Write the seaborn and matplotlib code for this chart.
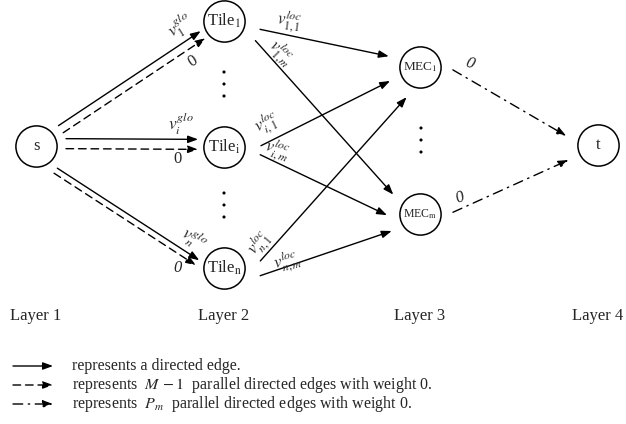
import numpy as np
import pandas as pd
import seaborn as sns
import matplotlib.pyplot as plt

sns.set_theme(style="white")
plt.rcParams["font.family"] = ["Liberation Serif", "DejaVu Serif"]
plt.rcParams["mathtext.fontset"] = "stix"

# --- texts of the diagram ---
layer_names = ["Layer 1", "Layer 2", "Layer 3", "Layer 4"]
node_names = ["s", "T1", "Ti", "Tn", "M1", "Mm", "t"]
node_labels = ["s", r"Tile$_{\mathrm{1}}$", r"Tile$_{\mathrm{i}}$", r"Tile$_{\mathrm{n}}$",
               r"MEC$_{\mathrm{1}}$", r"MEC$_{\mathrm{m}}$", "t"]
glo_labels = [r"$v_1^{glo}$", r"$v_i^{glo}$", r"$v_n^{glo}$"]
glo_zero = ["0", "0", "0"]
glo_zero_style = ["normal", "normal", "italic"]
loc_labels = [r"$v_{1,1}^{loc}$", r"$v_{1,m}^{loc}$", r"$v_{i,1}^{loc}$",
              r"$v_{i,m}^{loc}$", r"$v_{n,1}^{loc}$", r"$v_{n,m}^{loc}$"]
sink_zero = ["0", "0"]
legend_texts = ["represents a directed edge.",
                r"represents  $M\,-1$  parallel directed edges with weight 0.",
                r"represents  $P_m$  parallel directed edges with weight 0."]

# --- layout (pixel space, y down) ---
layer_x = [36, 224, 420, 598]
node_xy = {"s": (layer_x[0], 146), "T1": (layer_x[1], 21), "Ti": (layer_x[1], 147),
           "Tn": (layer_x[1], 268), "M1": (layer_x[2], 67), "Mm": (layer_x[2], 214),
           "t": (layer_x[3], 145)}
node_fs = [12, 12, 12, 12, 9.5, 8.5, 12]
d_out = {"s": 30, "T1": 37, "Ti": 37, "Tn": 37, "M1": 33, "Mm": 33}
d_in = {"T1": 25, "Ti": 26, "Tn": 25, "M1": 33, "Mm": 33, "t": 33}

solid = "-"
dashed = (0, (5.5, 3.5))
dashdot = (0, (7, 4, 1, 4))
# parallel s -> tile edges: src, dst, style, side offset (px, + = below)
s_edges = [("s", "T1", solid, -4.5), ("s", "T1", dashed, 4),
           ("s", "Ti", solid, -7.5), ("s", "Ti", dashed, 2.5),
           ("s", "Tn", solid, 7), ("s", "Tn", dashed, 13)]
# other edges: src, dst, style, leaving angle, arriving angle (deg, screen coords)
edges = [("T1", "M1", solid, 13, 199), ("T1", "Mm", solid, 32, 216),
         ("Ti", "M1", solid, -2, 155), ("Ti", "Mm", solid, 12, 178),
         ("Tn", "M1", solid, -11, 114), ("Tn", "Mm", solid, 12, 149),
         ("M1", "t", dashdot, 5, 196), ("Mm", "t", dashdot, -3, 153)]

fig = plt.figure(figsize=(6.26, 4.24), dpi=100)
ax = fig.add_axes([0, 0, 1, 1])


def port(name, dist, ang):
    x, y = node_xy[name]
    a = np.deg2rad(ang)
    return x + dist * np.cos(a), y + dist * np.sin(a)


def arrow(p0, p1, ls):
    ax.annotate("", xy=p1, xytext=p0,
                arrowprops=dict(arrowstyle="-|>,head_length=0.6,head_width=0.22",
                                color="black", lw=1.0, ls=ls, shrinkA=0, shrinkB=0,
                                mutation_scale=10))


# edges
for src, dst, ls, off in s_edges:
    p0 = np.array(node_xy[src], float)
    p1 = np.array(node_xy[dst], float)
    u = (p1 - p0) / np.linalg.norm(p1 - p0)
    n = np.array([-u[1], u[0]])
    arrow(p0 + d_out[src] * u + off * n, p1 - d_in[dst] * u + off * n, ls)
for src, dst, ls, a0, a1 in edges:
    arrow(port(src, d_out[src], a0), port(dst, d_in[dst], a1), ls)

# nodes
nodes = pd.DataFrame({"name": node_names,
                      "x": [node_xy[n][0] for n in node_names],
                      "y": [node_xy[n][1] for n in node_names]})
sns.scatterplot(data=nodes, x="x", y="y", ax=ax, s=880, marker="o",
                facecolor="white", edgecolor="black", linewidth=1.1, zorder=3)
for (n, lab, fs) in zip(node_names, node_labels, node_fs):
    x, y = node_xy[n]
    ax.text(x, y, lab, fontsize=fs, ha="center", va="center", zorder=4)

# vertical ellipsis dots
dots = pd.DataFrame({"x": [layer_x[1]] * 6 + [layer_x[2] + 1] * 3,
                     "y": [72, 84, 96, 193, 205, 217, 128, 140, 152]})
sns.scatterplot(data=dots, x="x", y="y", ax=ax, s=5, color="black", edgecolor="none")

# edge labels
glo_pos = [(180, 26, 32), (181, 124, 0), (194, 239, -33)]
glo_zero_pos = [(193, 61, 32), (178, 159, 0), (178, 268, 0)]
for lab, (x, y, r) in zip(glo_labels, glo_pos):
    ax.text(x, y, lab, fontsize=12.5, ha="center", va="center", rotation=r)
for lab, st, (x, y, r) in zip(glo_zero, glo_zero_style, glo_zero_pos):
    ax.text(x, y, lab, fontsize=12, style=st, ha="center", va="center", rotation=r)

loc_pos = [(289, 21, -8), (281, 53, -45), (267, 123, 25),
           (277, 150, -18), (259, 243, 50), (287, 261, 14)]
for lab, (x, y, r) in zip(loc_labels, loc_pos):
    ax.text(x, y, lab, fontsize=12, ha="center", va="center", rotation=r)

for lab, (x, y, r) in zip(sink_zero, [(470, 64, -20), (460, 198, 20)]):
    ax.text(x, y, lab, fontsize=12, style="italic", ha="center", va="center", rotation=r)

# layer names
for x, lab in zip(layer_x, layer_names):
    ax.text(x, 316, lab, fontsize=12, ha="center", va="center")

# legend
for y, ls, txt in zip([366, 385, 404], [solid, dashed, dashdot], legend_texts):
    arrow((13, y), (53, y), ls)
    ax.text(72, y, txt, fontsize=11.5, ha="left", va="center")

ax.set_xlim(0, 626)
ax.set_ylim(424, 0)
ax.axis("off")
fig.savefig("out.png", dpi=100, facecolor="white")
